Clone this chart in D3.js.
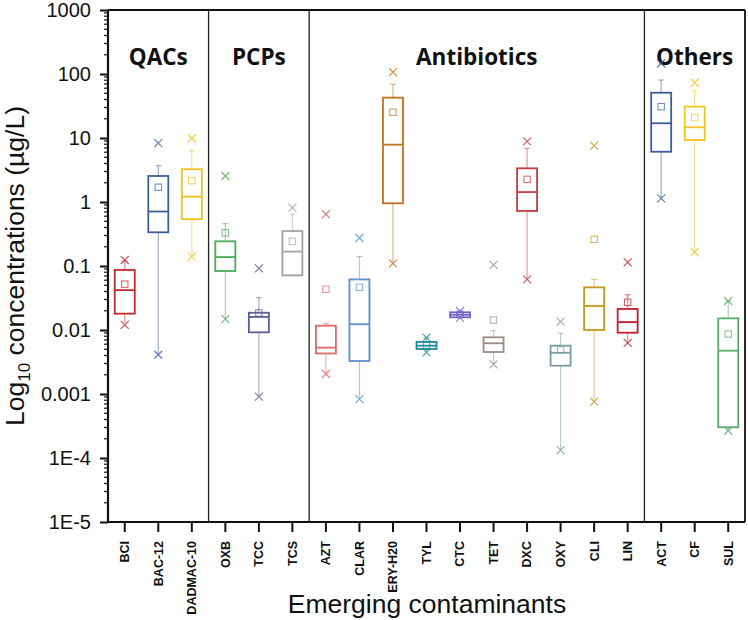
<!DOCTYPE html>
<html><head><meta charset="utf-8">
<script src="https://cdn.jsdelivr.net/npm/d3@7/dist/d3.min.js"></script>
<style>body{margin:0;background:#fff}svg{display:block}</style>
</head><body>
<svg id="chart" width="748" height="620"></svg>
<script>
const categories = ["BCI","BAC-12","DADMAC-10","OXB","TCC","TCS","AZT","CLAR","ERY-H20","TYL","CTC","TET","DXC","OXY","CLI","LIN","ACT","CF","SUL"];
const colors = ["#c8282e","#3d5f9e","#f2c318","#4caa5c","#5c5c96","#a3a3a3","#e2686a","#5e8fcf","#c0721c","#1c8a98","#7564c8","#9c8d84","#c63c3e","#7a9aa8","#c9961e","#c21f2c","#3b5d9c","#f4c41c","#5aac6c"];
const q1 = [0.018,0.336,0.54,0.0835,0.0092,0.0714,0.0043,0.00328,0.955,0.00505,0.0158,0.00453,0.724,0.00277,0.01,0.00908,6.1,9.3,0.000302];
const median = [0.042,0.71,1.21,0.138,0.016,0.168,0.0053,0.0123,7.87,0.00569,0.0173,0.0062,1.43,0.00441,0.0237,0.0133,17,14.7,0.00475];
const q3 = [0.0866,2.55,3.25,0.243,0.0186,0.352,0.01167,0.0617,42.7,0.0065,0.0189,0.00769,3.36,0.00569,0.0464,0.0213,51,30.9,0.0152];
const whiskerLow = [0.013,0.0041,0.14,0.0148,0.00091,0.0714,0.00205,0.00083,0.11,0.00447,0.0155,0.0029,0.0617,0.000133,0.00076,0.0063,1.14,0.164,0.000267];
const whiskerHigh = [0.12,3.7,6.3,0.46,0.032,0.65,0.0126,0.14,69,0.0076,0.0198,0.0098,6.9,0.00888,0.0617,0.0355,80.5,54.6,0.0284];
const means = [0.052,1.7,2.15,0.33,0.0185,0.243,0.0433,0.0464,25.2,0.0058,0.0175,0.0143,2.26,0.00487,0.261,0.0271,30.9,20.8,0.00866];
const mins = [0.012,0.0041,0.14,0.0148,0.00091,null,0.00205,0.00083,0.11,0.00447,0.0155,0.0029,0.0617,0.000133,0.00076,0.0063,1.14,0.164,0.000267];
const maxs = [0.124,8.3,9.9,2.55,0.092,0.815,0.643,0.274,107,0.0076,0.0198,0.104,8.87,0.0135,7.59,0.114,147,73,0.0284];
const groupNames = ["QACs","PCPs","Antibiotics","Others"];
const groupStart = [0,3,6,16];
const groupEnd = [2,5,15,18];
const yTickValues = [1000,100,10,1,0.1,0.01,0.001,1e-4,1e-5];
const yTickLabels = ["1000","100","10","1","0.1","0.01","0.001","1E-4","1E-5"];

const svg = d3.select("#chart");
const L = 108, R = 745, T = 10, B = 522;
const x = d3.scaleBand().domain(categories).range([L, R]).paddingInner(0).paddingOuter(0);
const y = d3.scaleLog().domain([1e-5, 1000]).range([B, T]);
const cx = c => x(c) + x.bandwidth() / 2;
const bw = 20;

// minor ticks
const minor = [];
for (let e = -5; e < 3; e++) for (let m = 2; m <= 9; m++) minor.push(m * Math.pow(10, e));
svg.append("g").selectAll("line").data(minor).join("line")
  .attr("x1", L - 4).attr("x2", L).attr("y1", d => y(d)).attr("y2", d => y(d))
  .attr("stroke", "#111").attr("stroke-width", 1.2);

// y axis
const yAxis = d3.axisLeft(y).tickValues(yTickValues).tickFormat((d, i) => yTickLabels[i]).tickSize(8).tickPadding(9);
const gy = svg.append("g").attr("transform", `translate(${L},0)`).call(yAxis);
gy.select(".domain").remove();
gy.selectAll(".tick line").attr("stroke", "#111").attr("stroke-width", 2);
gy.selectAll(".tick text").attr("font-family", "Liberation Sans, Arial, sans-serif").attr("font-size", 20).attr("fill", "#111");

// x axis
const xAxis = d3.axisBottom(x).tickSize(10).tickPadding(6);
const gx = svg.append("g").attr("transform", `translate(0,${B})`).call(xAxis);
gx.select(".domain").remove();
gx.selectAll(".tick line").attr("stroke", "#111").attr("stroke-width", 2);
gx.selectAll(".tick text")
  .attr("font-family", "Liberation Sans, Arial, sans-serif").attr("font-size", 12.5).attr("font-weight", "bold").attr("fill", "#111")
  .attr("transform", "rotate(-90)").attr("text-anchor", "end").attr("dy", "0.35em").attr("x", -19).attr("y", 0);

// frame
svg.append("line").attr("x1", L).attr("x2", L).attr("y1", T).attr("y2", B).attr("stroke", "#111").attr("stroke-width", 2.2);
svg.append("line").attr("x1", L).attr("x2", R).attr("y1", B).attr("y2", B).attr("stroke", "#111").attr("stroke-width", 2.2);
svg.append("line").attr("x1", L).attr("x2", R).attr("y1", T).attr("y2", T).attr("stroke", "#111").attr("stroke-width", 1.8);
svg.append("line").attr("x1", R).attr("x2", R).attr("y1", T).attr("y2", B).attr("stroke", "#111").attr("stroke-width", 1.8);

// dividers
const divs = groupStart.slice(1).map(i => x(categories[i]));
svg.append("g").selectAll("line").data(divs).join("line")
  .attr("x1", d => d).attr("x2", d => d).attr("y1", T).attr("y2", B)
  .attr("stroke", "#222").attr("stroke-width", 1.3);

// group labels
svg.append("g").selectAll("text").data(groupNames).join("text")
  .attr("x", (d, i) => (x(categories[groupStart[i]]) + x(categories[groupEnd[i]]) + x.bandwidth()) / 2)
  .attr("y", 65).attr("text-anchor", "middle")
  .attr("font-family", "Open Sans, sans-serif").attr("font-weight", "bold").attr("font-size", 22.5).attr("fill", "#111")
  .text(d => d);

// boxes
const data = categories.map((c, i) => ({c, col: colors[i], q1: q1[i], med: median[i], q3: q3[i], wl: whiskerLow[i], wh: whiskerHigh[i], mean: means[i], mn: mins[i], mx: maxs[i]}));
const g = svg.append("g").selectAll("g").data(data).join("g");
// whiskers
g.append("line").attr("x1", d => cx(d.c)).attr("x2", d => cx(d.c)).attr("y1", d => y(d.q3)).attr("y2", d => y(d.wh))
  .attr("stroke", d => d.col).attr("stroke-opacity", 0.5).attr("stroke-width", 1.2);
g.append("line").attr("x1", d => cx(d.c)).attr("x2", d => cx(d.c)).attr("y1", d => y(d.q1)).attr("y2", d => y(d.wl))
  .attr("stroke", d => d.col).attr("stroke-opacity", 0.5).attr("stroke-width", 1.2);
g.append("line").attr("x1", d => cx(d.c) - 3).attr("x2", d => cx(d.c) + 3).attr("y1", d => y(d.wh)).attr("y2", d => y(d.wh))
  .attr("stroke", d => d.col).attr("stroke-opacity", 0.5).attr("stroke-width", 1.2);
// box
g.append("rect").attr("x", d => cx(d.c) - bw / 2).attr("width", bw)
  .attr("y", d => y(d.q3)).attr("height", d => Math.max(1, y(d.q1) - y(d.q3)))
  .attr("fill", "none").attr("stroke", d => d.col).attr("stroke-width", 1.8);
g.append("line").attr("x1", d => cx(d.c) - bw / 2).attr("x2", d => cx(d.c) + bw / 2).attr("y1", d => y(d.med)).attr("y2", d => y(d.med))
  .attr("stroke", d => d.col).attr("stroke-width", 1.8);
// mean
g.append("rect").attr("x", d => cx(d.c) - 3.2).attr("y", d => y(d.mean) - 3.2).attr("width", 6.4).attr("height", 6.4)
  .attr("fill", "none").attr("stroke", d => d.col).attr("stroke-opacity", 0.7).attr("stroke-width", 1.1);
// x markers
const cross = (sel, key) => {
  const s = sel.filter(d => d[key] != null);
  s.append("path").attr("d", d => {
    const px = cx(d.c), py = y(d[key]), r = 4;
    return `M${px - r},${py - r}L${px + r},${py + r}M${px - r},${py + r}L${px + r},${py - r}`;
  }).attr("stroke", d => d.col).attr("stroke-opacity", 0.8).attr("stroke-width", 1.2).attr("fill", "none");
};
cross(g, "mx");
cross(g, "mn");

// axis titles
svg.append("text").attr("transform", `translate(24,${(T + B) / 2}) rotate(-90)`).attr("text-anchor", "middle")
  .attr("font-family", "Liberation Sans, Arial, sans-serif").attr("font-size", 26.5).attr("fill", "#111")
  .html('Log<tspan font-size="17" dy="6">10</tspan><tspan dy="-6"> concentrations (µg/L)</tspan>');
svg.append("text").attr("x", 427).attr("y", 613).attr("text-anchor", "middle")
  .attr("font-family", "Liberation Sans, Arial, sans-serif").attr("font-size", 26.5).attr("fill", "#111")
  .text("Emerging contaminants");
</script>
</body></html>
